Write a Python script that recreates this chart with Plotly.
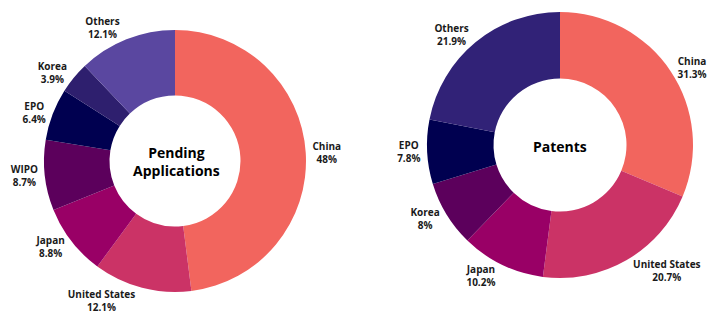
import plotly.graph_objects as go

left_labels = ["China", "United States", "Japan", "WIPO", "EPO", "Korea", "Others"]
left_values = [48, 12.1, 8.8, 8.7, 6.4, 3.9, 12.1]
left_colors = ["#f2655e", "#cb3366", "#990066", "#5c005c", "#000050", "#2e1f6e", "#5a47a0"]

right_labels = ["China", "United States", "Japan", "Korea", "EPO", "Others"]
right_values = [31.3, 20.7, 10.2, 8, 7.8, 21.9]
right_colors = ["#f2655e", "#cb3366", "#990066", "#5c005c", "#000050", "#312277"]

W, H = 713, 324

def dom(x0, x1, ytop, ybot):
    return dict(x=[x0 / W, x1 / W], y=[1 - ybot / H, 1 - ytop / H])

common = dict(
    hole=0.5, sort=False, direction="clockwise", rotation=0,
    textposition="outside", texttemplate="<b>%{label}</b><br><b>%{value}%</b>",
    outsidetextfont=dict(family="Open Sans", size=10, color="#1a1a1a"),
    marker_line_width=0, showlegend=False, hoverinfo="label+percent",
)

fig = go.Figure()
fig.add_trace(go.Pie(labels=left_labels, values=left_values,
                     marker=dict(colors=left_colors), domain=dom(44, 306, 30, 292), **common))
fig.add_trace(go.Pie(labels=right_labels, values=right_values,
                     marker=dict(colors=right_colors), domain=dom(427, 693, 12, 278), **common))

fig.add_annotation(x=176 / W, y=1 - 161 / H, xref="paper", yref="paper",
                   xanchor="center", yanchor="middle",
                   text="<b>Pending<br>Applications</b>", showarrow=False,
                   font=dict(family="Open Sans", size=14, color="#000"))
fig.add_annotation(x=560 / W, y=1 - 146 / H, xref="paper", yref="paper",
                   xanchor="center", yanchor="middle",
                   text="<b>Patents</b>", showarrow=False,
                   font=dict(family="Open Sans", size=14, color="#000"))

fig.update_layout(width=W, height=H, margin=dict(l=0, r=0, t=0, b=0),
                  paper_bgcolor="white", plot_bgcolor="white",
                  font=dict(family="Open Sans"))
fig.write_html("out.html")
